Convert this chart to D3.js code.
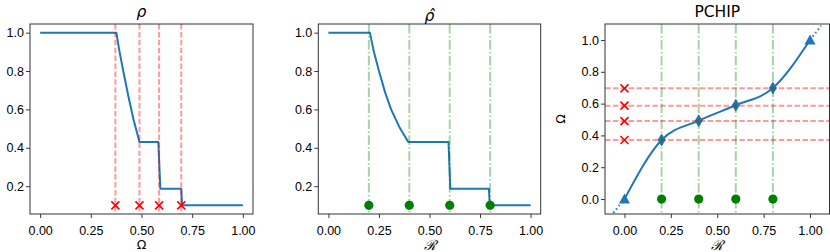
<!DOCTYPE html>
<html>
<head>
<meta charset="utf-8">
<script src="https://cdn.jsdelivr.net/npm/d3@7/dist/d3.min.js"></script>
<style>
  html, body { margin: 0; padding: 0; background: #fff; }
  svg { display: block; font-family: "DejaVu Sans", sans-serif; }
  .tick text { font-size: 12.5px; fill: #000; }
</style>
</head>
<body>
<div id="chart"></div>
<script>
// rho(Omega), left panel
const rhoOmega = [0, 0.376, 0.39, 0.41, 0.435, 0.46, 0.49, 0.583, 0.593, 0.696, 0.70, 1.0];
const rhoValue = [1.0, 1.0, 0.91, 0.80, 0.67, 0.55, 0.43, 0.43, 0.186, 0.186, 0.10, 0.10];
const omegaLevels = [0.371, 0.49, 0.587, 0.696];

// rho hat(R), middle panel
const rhoHatR = [0, 0.205, 0.225, 0.25, 0.28, 0.31, 0.35, 0.395, 0.594, 0.603, 0.794, 0.798, 1.0];
const rhoHatValue = [1.0, 1.0, 0.90, 0.80, 0.69, 0.60, 0.51, 0.43, 0.43, 0.186, 0.186, 0.10, 0.10];
const rLevels = [0.2, 0.4, 0.6, 0.8];

// PCHIP knots, right panel
const knotR = [0, 0.2, 0.4, 0.6, 0.8, 1.0];
const knotOmega = [0, 0.371, 0.493, 0.59, 0.698, 1.0];
const lowExtraR = [-0.06, 0];
const lowExtraOmega = [-0.087, 0];
const highExtraR = [1.0, 1.06];
const highExtraOmega = [1.0, 1.09];

const xTicks = [0, 0.25, 0.5, 0.75, 1.0];
const yTicksRho = [0.2, 0.4, 0.6, 0.8, 1.0];
const yTicksOmega = [0, 0.2, 0.4, 0.6, 0.8, 1.0];

const width = 830, height = 252;
const blue = "#1f77b4";
const red = "red";
const green = "green";

const svg = d3.select("#chart").append("svg")
  .attr("width", width).attr("height", height);

function make_panel(id, left, right, xDomain, yDomain, yTicks, xFmt, yFmt) {
  const top = 24, bottom = 214;
  const x = d3.scaleLinear().domain(xDomain).range([left, right]);
  const y = d3.scaleLinear().domain(yDomain).range([bottom, top]);
  const g = svg.append("g");

  svg.append("clipPath").attr("id", id)
    .append("rect").attr("x", left).attr("y", top)
    .attr("width", right - left).attr("height", bottom - top);

  const plot = g.append("g").attr("clip-path", `url(#${id})`);

  const xAxis = g.append("g").attr("transform", `translate(0,${bottom})`)
    .call(d3.axisBottom(x).tickValues(xTicks).tickFormat(d3.format(xFmt)).tickSize(4).tickPadding(8));
  const yAxis = g.append("g").attr("transform", `translate(${left},0)`)
    .call(d3.axisLeft(y).tickValues(yTicks).tickFormat(d3.format(yFmt)).tickSize(4).tickPadding(2));
  [xAxis, yAxis].forEach(function(a) {
    a.select(".domain").remove();
    a.selectAll(".tick line").attr("stroke", "#222").attr("stroke-width", 0.9);
  });

  // frame drawn at the end so it sits on top
  function frame() {
    g.append("rect").attr("x", left).attr("y", top)
      .attr("width", right - left).attr("height", bottom - top)
      .attr("fill", "none").attr("stroke", "#333").attr("stroke-width", 1);
  }
  return { g, plot, x, y, top, bottom, left, right, frame };
}

function curve_line(p, xs, ys, curve) {
  return d3.line()
    .x(function(d, i) { return p.x(xs[i]); })
    .y(function(d, i) { return p.y(ys[i]); })
    .curve(curve || d3.curveLinear)(xs);
}

function cross(sel, cx, cy) {
  sel.append("path")
    .attr("d", `M${cx - 4},${cy - 4}L${cx + 4},${cy + 4}M${cx + 4},${cy - 4}L${cx - 4},${cy + 4}`)
    .attr("stroke", red).attr("stroke-width", 1.6).attr("fill", "none");
}

function vline(p, xv, color, dash) {
  p.plot.append("line")
    .attr("x1", p.x(xv)).attr("x2", p.x(xv))
    .attr("y1", p.top).attr("y2", p.bottom)
    .attr("stroke", color).attr("stroke-opacity", color == red ? 0.4 : 0.35)
    .attr("stroke-width", 2).attr("stroke-dasharray", dash);
}

function hline(p, yv) {
  p.plot.append("line")
    .attr("x1", p.left).attr("x2", p.right)
    .attr("y1", p.y(yv)).attr("y2", p.y(yv))
    .attr("stroke", red).attr("stroke-opacity", 0.4)
    .attr("stroke-width", 2).attr("stroke-dasharray", "5.5,2.4");
}

const dashed = "5.5,2.4";
const dashdot = "9.6,2.4,1.5,2.4";

// ---------- panel 1: rho ----------
const p1 = make_panel("c1", 30, 253, [-0.05, 1.05], [0.055, 1.045], yTicksRho, ".2f", ".1f");
p1.plot.append("path").attr("d", curve_line(p1, rhoOmega, rhoValue))
  .attr("fill", "none").attr("stroke", blue).attr("stroke-width", 2).attr("stroke-linejoin", "round");
omegaLevels.forEach(function(o) { cross(p1.plot, p1.x(o), p1.y(0.1)); });
omegaLevels.forEach(function(o) { vline(p1, o, red, dashed); });
p1.frame();

// ---------- panel 2: rho hat ----------
const p2 = make_panel("c2", 318.3, 540.7, [-0.05, 1.05], [0.055, 1.045], yTicksRho, ".2f", ".1f");
p2.plot.append("path").attr("d", curve_line(p2, rhoHatR, rhoHatValue))
  .attr("fill", "none").attr("stroke", blue).attr("stroke-width", 2).attr("stroke-linejoin", "round");
rLevels.forEach(function(r) { vline(p2, r, green, dashdot); });
rLevels.forEach(function(r) {
  p2.plot.append("circle").attr("cx", p2.x(r)).attr("cy", p2.y(0.1)).attr("r", 4.6).attr("fill", green);
});
p2.frame();

// ---------- panel 3: PCHIP ----------
const p3 = make_panel("c3", 605, 829.5, [-0.105, 1.105], [-0.094, 1.1006], yTicksOmega, ".2f", ".1f");
p3.plot.append("path").attr("d", curve_line(p3, lowExtraR, lowExtraOmega))
  .attr("fill", "none").attr("stroke", blue).attr("stroke-width", 2).attr("stroke-dasharray", "1.5,2.8");
p3.plot.append("path").attr("d", curve_line(p3, highExtraR, highExtraOmega))
  .attr("fill", "none").attr("stroke", blue).attr("stroke-width", 2).attr("stroke-dasharray", "1.5,2.8");
p3.plot.append("path").attr("d", curve_line(p3, knotR, knotOmega, d3.curveMonotoneX))
  .attr("fill", "none").attr("stroke", blue).attr("stroke-width", 2);
knotR.forEach(function(r, i) {
  const cx = p3.x(r), cy = p3.y(knotOmega[i]);
  if (i == 0 || i == knotR.length - 1) {
    p3.plot.append("path").attr("d", `M${cx},${cy - 5.5}L${cx + 5.5},${cy + 4.5}L${cx - 5.5},${cy + 4.5}Z`).attr("fill", blue);
  } else {
    p3.plot.append("path").attr("d", `M${cx},${cy - 6.5}L${cx + 4},${cy}L${cx},${cy + 6.5}L${cx - 4},${cy}Z`).attr("fill", blue);
  }
});
omegaLevels.forEach(function(o) { hline(p3, o); });
rLevels.forEach(function(r) { vline(p3, r, green, dashdot); });
omegaLevels.forEach(function(o) { cross(p3.plot, p3.x(0), p3.y(o)); });
rLevels.forEach(function(r) {
  p3.plot.append("circle").attr("cx", p3.x(r)).attr("cy", p3.y(0)).attr("r", 4.6).attr("fill", green);
});
p3.frame();

// ---------- titles and axis labels ----------
svg.append("text").attr("x", 141.5).attr("y", 16.5).attr("text-anchor", "middle")
  .attr("font-size", 15.5).attr("font-style", "italic").text("ρ");
// rho with a combining circumflex
svg.append("text").attr("x", 429.5).attr("y", 20.5).attr("text-anchor", "middle")
  .attr("font-size", 15.5).attr("font-style", "italic").text("ρ\u0302");
svg.append("text").attr("x", 717.3).attr("y", 17.3).attr("text-anchor", "middle")
  .attr("font-size", 15.5).text("PCHIP");

svg.append("text").attr("x", 141.5).attr("y", 249).attr("text-anchor", "middle")
  .attr("font-size", 12.5).text("Ω");
svg.append("text").attr("x", 429.5).attr("y", 249.5).attr("text-anchor", "middle")
  .attr("font-size", 14).attr("font-family", "DejaVu Serif").attr("font-style", "italic").text("ℛ");
svg.append("text").attr("x", 717.3).attr("y", 249.5).attr("text-anchor", "middle")
  .attr("font-size", 14).attr("font-family", "DejaVu Serif").attr("font-style", "italic").text("ℛ");
svg.append("text").attr("transform", "translate(564.5,119) rotate(-90)").attr("text-anchor", "middle")
  .attr("font-size", 12.5).text("Ω");
</script>
</body>
</html>
